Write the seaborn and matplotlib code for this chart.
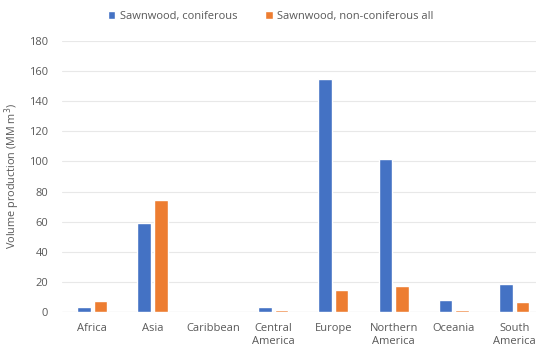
import pandas as pd
import seaborn as sns
import matplotlib.pyplot as plt

regions = ['Africa', 'Asia', 'Caribbean', 'Central\nAmerica', 'Europe',
           'Northern\nAmerica', 'Oceania', 'South\nAmerica']
coniferous = [3, 59, 0, 3, 154.5, 101.5, 8, 18.8]
non_coniferous = [7.5, 74.5, 0, 1, 14.8, 17.5, 1, 6.8]
series = ['Sawnwood, coniferous', 'Sawnwood, non-coniferous all']

df = pd.DataFrame({
    'region': regions * 2,
    'value': coniferous + non_coniferous,
    'series': [series[0]] * len(regions) + [series[1]] * len(regions),
})

sns.set_style('white')
plt.rcParams['font.family'] = ['Open Sans', 'DejaVu Sans']

fig = plt.figure(figsize=(5.36, 3.47), dpi=100)
ax = fig.add_axes([62 / 536, 35 / 347, 474 / 536, 271 / 347])

sns.barplot(data=df, x='region', y='value', hue='series', ax=ax,
            palette=['#4472C4', '#ED7D31'], width=0.55, gap=0.18,
            saturation=1)

ax.set_xlim(-0.5, 7.36)
ax.set_ylim(0, 180)
ax.set_yticks(range(0, 181, 20))
ax.yaxis.grid(True, color='#E8E8E8', linewidth=0.8)
ax.set_axisbelow(True)
sns.despine(ax=ax, left=True, bottom=True)
ax.axhline(0, color='#D9D9D9', linewidth=0.8, zorder=0.5)

ax.tick_params(axis='both', length=0, labelsize=8, labelcolor='#595959')
ax.tick_params(axis='y', pad=10)
ax.tick_params(axis='x', pad=8)
ax.set_xlabel('')
ax.set_ylabel('Volume production (MM m$^3$)', fontsize=7.8, color='#595959',
              labelpad=5)

ax.legend(loc='center', bbox_to_anchor=(0.44, 1.09), ncol=2,
          frameon=False, fontsize=8, handlelength=0.7, handleheight=0.7,
          columnspacing=2.5, handletextpad=0.4, labelcolor='#595959')

fig.savefig('out.png', dpi=100)
